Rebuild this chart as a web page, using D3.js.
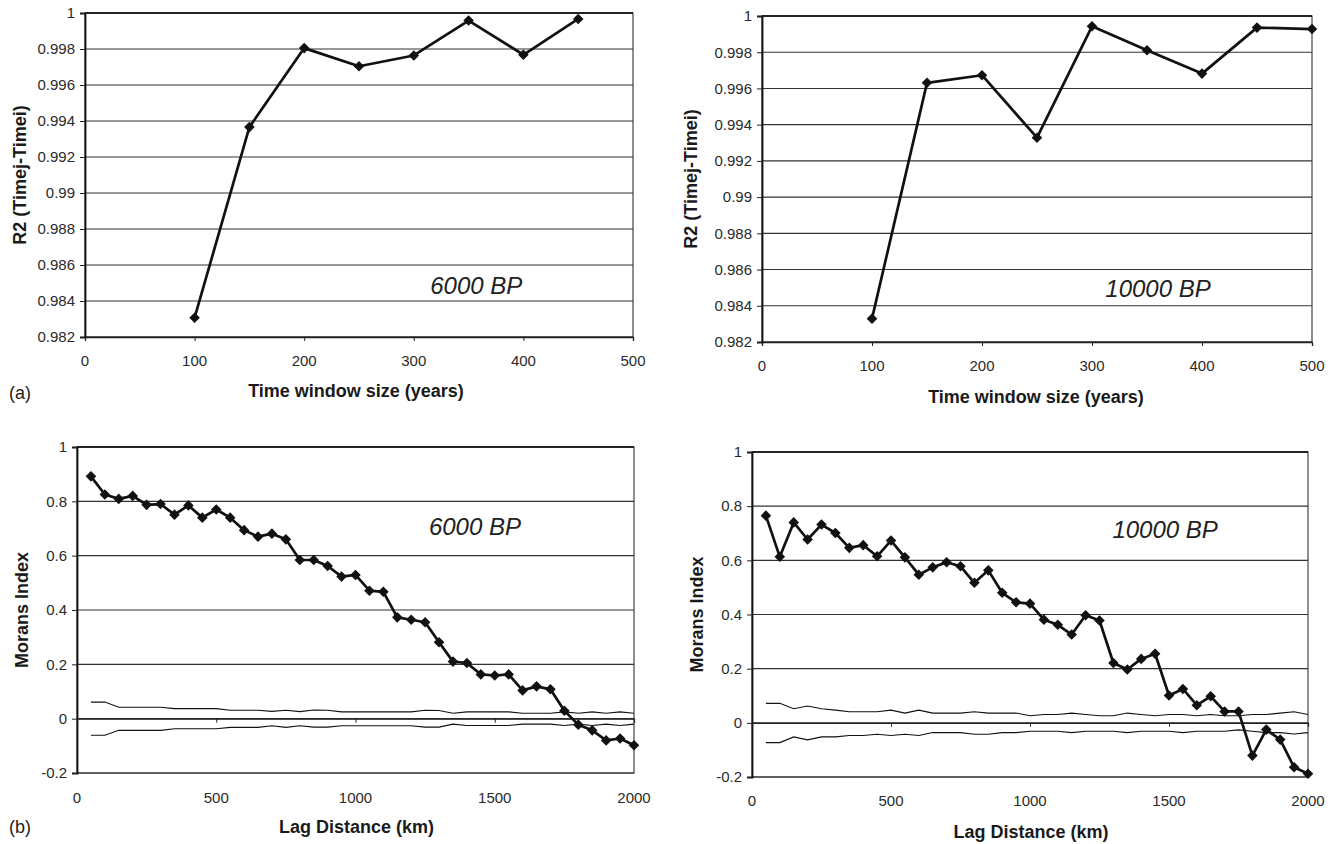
<!DOCTYPE html>
<html>
<head>
<meta charset="utf-8">
<script src="https://cdn.jsdelivr.net/npm/d3@7"></script>
<style>
  body { margin: 0; background: #fff; }
  text { font-family: "Liberation Sans", Arial, sans-serif; }
</style>
</head>
<body>
<script>
// ---- data ----
var windowA = [100, 150, 200, 250, 300, 350, 400, 450];
var r2_6000 = [0.98307, 0.99366, 0.99805, 0.99704, 0.99764, 0.99958, 0.99768, 0.99967];

var windowB = [100, 150, 200, 250, 300, 350, 400, 450, 500];
var r2_10000 = [0.98329, 0.99631, 0.99673, 0.99328, 0.99943, 0.99811, 0.99682, 0.99936, 0.99928];

var lagKm = [50, 100, 150, 200, 250, 300, 350, 400, 450, 500, 550, 600, 650, 700, 750, 800, 850, 900, 950, 1000,
  1050, 1100, 1150, 1200, 1250, 1300, 1350, 1400, 1450, 1500, 1550, 1600, 1650, 1700, 1750, 1800, 1850, 1900, 1950, 2000];

var moran6000 = [0.892, 0.825, 0.809, 0.820, 0.787, 0.790, 0.751, 0.785, 0.740, 0.770, 0.740, 0.694, 0.670, 0.681, 0.660,
  0.584, 0.584, 0.562, 0.523, 0.529, 0.471, 0.467, 0.373, 0.364, 0.355, 0.281, 0.210, 0.205, 0.163, 0.159,
  0.163, 0.104, 0.119, 0.108, 0.029, -0.022, -0.043, -0.080, -0.073, -0.098];
var upper6000 = [0.061, 0.061, 0.042, 0.042, 0.042, 0.042, 0.037, 0.037, 0.037, 0.037, 0.031, 0.031, 0.031, 0.027, 0.031,
  0.026, 0.032, 0.031, 0.025, 0.025, 0.025, 0.025, 0.025, 0.025, 0.031, 0.030, 0.020, 0.025, 0.025, 0.025,
  0.025, 0.020, 0.020, 0.020, 0.025, 0.020, 0.025, 0.020, 0.025, 0.020];
var lower6000 = [-0.061, -0.061, -0.043, -0.043, -0.043, -0.043, -0.037, -0.037, -0.037, -0.037, -0.032, -0.032, -0.032, -0.026, -0.032,
  -0.026, -0.031, -0.031, -0.026, -0.026, -0.026, -0.026, -0.026, -0.026, -0.031, -0.031, -0.020, -0.025, -0.025, -0.025,
  -0.025, -0.020, -0.020, -0.020, -0.025, -0.020, -0.025, -0.020, -0.025, -0.020];

var moran10000 = [0.765, 0.613, 0.740, 0.677, 0.732, 0.701, 0.646, 0.656, 0.615, 0.673, 0.611, 0.547, 0.574, 0.593, 0.578,
  0.517, 0.563, 0.480, 0.445, 0.440, 0.381, 0.362, 0.326, 0.397, 0.378, 0.221, 0.197, 0.236, 0.255, 0.101,
  0.125, 0.065, 0.098, 0.042, 0.042, -0.121, -0.025, -0.062, -0.164, -0.188];
var upper10000 = [0.072, 0.072, 0.052, 0.062, 0.052, 0.047, 0.041, 0.041, 0.041, 0.047, 0.036, 0.047, 0.036, 0.036, 0.036,
  0.041, 0.036, 0.036, 0.036, 0.026, 0.031, 0.031, 0.036, 0.031, 0.026, 0.026, 0.036, 0.031, 0.026, 0.031,
  0.031, 0.026, 0.031, 0.026, 0.026, 0.031, 0.031, 0.036, 0.041, 0.031];
var lower10000 = [-0.073, -0.073, -0.052, -0.063, -0.052, -0.052, -0.047, -0.047, -0.042, -0.047, -0.042, -0.047, -0.036, -0.036, -0.036,
  -0.042, -0.042, -0.036, -0.036, -0.031, -0.031, -0.031, -0.036, -0.031, -0.031, -0.031, -0.036, -0.031, -0.031, -0.031,
  -0.036, -0.031, -0.031, -0.031, -0.026, -0.031, -0.036, -0.036, -0.041, -0.036];

var r2Ticks = [0.982, 0.984, 0.986, 0.988, 0.99, 0.992, 0.994, 0.996, 0.998, 1];
var windowTicks = [0, 100, 200, 300, 400, 500];
var moranTicks = [-0.2, 0, 0.2, 0.4, 0.6, 0.8, 1];
var lagTicks = [0, 500, 1000, 1500, 2000];

var svg = d3.select("body").append("svg")
  .attr("width", 1337)
  .attr("height", 844);

var fmt = function(v) { return String(+v.toFixed(3)); };

function drawPanel(p) {
  var x = d3.scaleLinear().domain(p.xDomain).range([p.left, p.right]);
  var y = d3.scaleLinear().domain(p.yDomain).range([p.bottom, p.top]);
  var g = svg.append("g");

  // gridlines
  g.selectAll("line.grid")
    .data(p.yTicks)
    .enter().append("line")
    .attr("x1", p.left).attr("x2", p.right)
    .attr("y1", function(d) { return y(d); })
    .attr("y2", function(d) { return y(d); })
    .attr("stroke", "#333")
    .attr("stroke-width", 1.1);

  // plot frame
  g.append("rect")
    .attr("x", p.left).attr("y", p.top)
    .attr("width", p.right - p.left).attr("height", p.bottom - p.top)
    .attr("fill", "none").attr("stroke", "#333").attr("stroke-width", 1.1);
  g.append("line")
    .attr("x1", p.left).attr("x2", p.right)
    .attr("y1", p.top).attr("y2", p.top)
    .attr("stroke", "#111").attr("stroke-width", 1.6);

  // y axis
  var yAxis = d3.axisLeft(y).tickValues(p.yTicks).tickFormat(fmt).tickSize(5).tickPadding(5);
  var ya = g.append("g").attr("transform", "translate(" + p.left + ",0)").call(yAxis);
  ya.select(".domain").attr("stroke", "#111").attr("stroke-width", 1.8);

  // x axis: ticks sit on the axis line, labels below the plot
  var axisY = y(p.xAxisAt);
  var xAxis = d3.axisBottom(x).tickValues(p.xTicks).tickFormat("").tickSize(4);
  var xa = g.append("g").attr("transform", "translate(0," + axisY + ")").call(xAxis);
  xa.select(".domain").attr("stroke", "#222").attr("stroke-width", 1.3);
  xa.selectAll(".tick line").attr("stroke", "#222");

  g.selectAll("text.xlab")
    .data(p.xTicks)
    .enter().append("text")
    .attr("x", function(d) { return x(d); })
    .attr("y", p.xLabelY)
    .attr("text-anchor", "middle")
    .attr("dominant-baseline", "central")
    .attr("font-size", 15)
    .attr("fill", "#2a2a2a")
    .text(function(d) { return d; });

  ya.selectAll(".tick text").attr("font-size", 15).attr("fill", "#2a2a2a")
    .attr("font-family", "Liberation Sans, Arial, sans-serif");
  ya.selectAll(".tick line").attr("stroke", "#222");

  // confidence bands
  (p.bands || []).forEach(function(b) {
    var line = d3.line()
      .x(function(d, i) { return x(p.xs[i]); })
      .y(function(d) { return y(d); });
    g.append("path").datum(b)
      .attr("d", line)
      .attr("fill", "none").attr("stroke", "#111").attr("stroke-width", 1.1);
  });

  // main series
  var mainLine = d3.line()
    .x(function(d, i) { return x(p.xs[i]); })
    .y(function(d) { return y(d); });
  g.append("path").datum(p.ys)
    .attr("d", mainLine)
    .attr("fill", "none").attr("stroke", "#111").attr("stroke-width", 2.7)
    .attr("stroke-linejoin", "round");

  var diamond = d3.symbol().type(d3.symbolSquare).size(56);
  g.selectAll("path.mk")
    .data(p.ys)
    .enter().append("path")
    .attr("d", diamond)
    .attr("transform", function(d, i) {
      return "translate(" + x(p.xs[i]) + "," + y(d) + ") rotate(45)";
    })
    .attr("fill", "#111");

  // axis titles
  g.append("text")
    .attr("x", (p.left + p.right) / 2 + p.xTitleDx)
    .attr("y", p.xTitleY)
    .attr("text-anchor", "middle")
    .attr("dominant-baseline", "central")
    .attr("font-size", 18).attr("font-weight", "bold").attr("fill", "#1a1a1a")
    .text(p.xTitle);
  g.append("text")
    .attr("transform", "translate(" + p.yTitleX + "," + (p.top + p.bottom) / 2 + ") rotate(-90)")
    .attr("text-anchor", "middle")
    .attr("dominant-baseline", "central")
    .attr("font-size", 18).attr("font-weight", "bold").attr("fill", "#1a1a1a")
    .text(p.yTitle);

  // in-plot label
  g.append("text")
    .attr("x", x(p.note[0])).attr("y", y(p.note[1]))
    .attr("text-anchor", "middle")
    .attr("font-size", 24).attr("font-style", "italic").attr("fill", "#222")
    .text(p.note[2]);

  if (p.tag) {
    g.append("text")
      .attr("x", 9).attr("y", p.tag[1])
      .attr("dominant-baseline", "central")
      .attr("font-family", "Liberation Serif, Times New Roman, serif")
      .attr("font-size", 18).attr("fill", "#222")
      .text(p.tag[0]);
  }
}

drawPanel({
  left: 85, right: 633, top: 13, bottom: 337,
  xDomain: [0, 500], yDomain: [0.982, 1],
  xTicks: windowTicks, yTicks: r2Ticks, xAxisAt: 0.982,
  xs: windowA, ys: r2_6000,
  xLabelY: 360, xTitle: "Time window size (years)", xTitleY: 391, xTitleDx: -3,
  yTitle: "R2 (Timej-Timei)", yTitleX: 20,
  note: [357, 0.98439, "6000 BP"], tag: ["(a)", 393]
});

drawPanel({
  left: 762, right: 1312, top: 16, bottom: 342,
  xDomain: [0, 500], yDomain: [0.982, 1],
  xTicks: windowTicks, yTicks: r2Ticks, xAxisAt: 0.982,
  xs: windowB, ys: r2_10000,
  xLabelY: 365, xTitle: "Time window size (years)", xTitleY: 397, xTitleDx: -1,
  yTitle: "R2 (Timej-Timei)", yTitleX: 691,
  note: [360, 0.98449, "10000 BP"]
});

drawPanel({
  left: 77, right: 634, top: 447, bottom: 773,
  xDomain: [0, 2000], yDomain: [-0.2, 1],
  xTicks: lagTicks, yTicks: moranTicks, xAxisAt: 0,
  xs: lagKm, ys: moran6000, bands: [upper6000, lower6000],
  xLabelY: 797, xTitle: "Lag Distance (km)", xTitleY: 827, xTitleDx: 1,
  yTitle: "Morans Index", yTitleX: 22,
  note: [1429, 0.677, "6000 BP"], tag: ["(b)", 827]
});

drawPanel({
  left: 752, right: 1308, top: 452, bottom: 777,
  xDomain: [0, 2000], yDomain: [-0.2, 1],
  xTicks: lagTicks, yTicks: moranTicks, xAxisAt: 0,
  xs: lagKm, ys: moran10000, bands: [upper10000, lower10000],
  xLabelY: 800, xTitle: "Lag Distance (km)", xTitleY: 832, xTitleDx: 1,
  yTitle: "Morans Index", yTitleX: 697,
  note: [1486, 0.682, "10000 BP"]
});
</script>
</body>
</html>
